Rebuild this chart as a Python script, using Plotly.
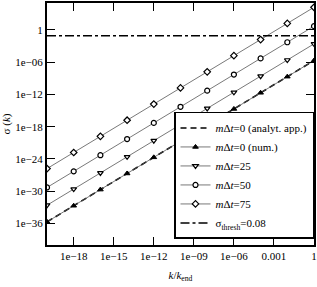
import plotly.graph_objects as go

# Data
k_ratio = [1e-20, 1e-18, 1e-16, 1e-14, 1e-12, 1e-10, 1e-8, 1e-6, 1e-4, 1e-2, 1.0]
sigma_analyt = [2e-36, 2e-33, 2e-30, 2e-27, 2e-24, 2e-21, 2e-18, 2e-15, 2e-12, 2e-9, 2e-6]
sigma_m0 = [2e-36, 2e-33, 2e-30, 2e-27, 2e-24, 2e-21, 2e-18, 2e-15, 2e-12, 2e-9, 2e-6]
sigma_m25 = [2.5e-33, 2.5e-30, 2.5e-27, 2.5e-24, 2.5e-21, 2.5e-18, 2.5e-15, 2.5e-12, 2.5e-9, 2.5e-6, 2.5e-3]
sigma_m50 = [5e-30, 5e-27, 5e-24, 5e-21, 5e-18, 5e-15, 5e-12, 5e-9, 5e-6, 5e-3, 5.0]
sigma_m75 = [1.6e-26, 1.6e-23, 1.6e-20, 1.6e-17, 1.6e-14, 1.6e-11, 1.6e-8, 1.6e-5, 1.6e-2, 1.6e1, 1.6e4]
thresh_x = [1e-20, 1.0]
sigma_thresh = [0.08, 0.08]

x_tickvals = [1e-18, 1e-15, 1e-12, 1e-9, 1e-6, 1e-3, 1]
x_ticktext = ["1e\u221218", "1e\u221215", "1e\u221212", "1e\u221209", "1e\u221206", "0.001", "1"]
y_tickvals = [1, 1e-6, 1e-12, 1e-18, 1e-24, 1e-30, 1e-36]
y_ticktext = ["1", "1e\u221206", "1e\u221212", "1e\u221218", "1e\u221224", "1e\u221230", "1e\u221236"]

FONT = "Liberation Serif, Times New Roman, serif"
line_col = "#555555"
mk = dict(size=5, color="white", line=dict(color="black", width=1.2))

fig = go.Figure()
fig.add_trace(go.Scatter(x=k_ratio, y=sigma_analyt, mode="lines",
                         line=dict(color="black", width=1.6, dash="6px,4px"),
                         name="<i>m</i>\u0394<i>t</i>=0 (analyt. app.)"))
fig.add_trace(go.Scatter(x=k_ratio, y=sigma_m0, mode="lines+markers",
                         line=dict(color=line_col, width=0.8),
                         marker=dict(symbol="triangle-up", size=5, color="black", line=dict(color="black", width=1)),
                         name="<i>m</i>\u0394<i>t</i>=0 (num.)"))
fig.add_trace(go.Scatter(x=k_ratio, y=sigma_m25, mode="lines+markers",
                         line=dict(color=line_col, width=0.8),
                         marker=dict(symbol="triangle-down", **mk),
                         name="<i>m</i>\u0394<i>t</i>=25"))
fig.add_trace(go.Scatter(x=k_ratio, y=sigma_m50, mode="lines+markers",
                         line=dict(color=line_col, width=0.8),
                         marker=dict(symbol="circle", **mk),
                         name="<i>m</i>\u0394<i>t</i>=50"))
fig.add_trace(go.Scatter(x=k_ratio, y=sigma_m75, mode="lines+markers",
                         line=dict(color=line_col, width=0.8),
                         marker=dict(symbol="diamond", **mk),
                         name="<i>m</i>\u0394<i>t</i>=75"))
fig.add_trace(go.Scatter(x=thresh_x, y=sigma_thresh, mode="lines",
                         line=dict(color="black", width=1.5, dash="dashdot"),
                         name="\u03c3<sub>thresh</sub>=0.08"))

axis_common = dict(
    type="log", showgrid=False, zeroline=False,
    showline=True, linecolor="black", linewidth=2, mirror="allticks",
    ticks="inside", ticklen=8, tickwidth=1.3, tickcolor="black",
    tickfont=dict(family=FONT, size=11, color="black"),
)

fig.update_layout(
    width=317, height=287,
    margin=dict(l=47, r=1, t=1, b=42),
    paper_bgcolor="white", plot_bgcolor="white",
    font=dict(family=FONT, size=11, color="black"),
    xaxis=dict(range=[-20, 0], tickvals=x_tickvals, ticktext=x_ticktext,
               title=dict(text="<i>k</i>/<i>k</i><sub>end</sub>", font=dict(family=FONT, size=11), standoff=10),
               **axis_common),
    yaxis=dict(range=[-40, 5], tickvals=y_tickvals, ticktext=y_ticktext,
               title=dict(text="\u03c3 (<i>k</i>)", font=dict(family=FONT, size=11), standoff=4),
               **axis_common),
    legend=dict(x=1, xanchor="right", y=0.025, yanchor="bottom",
                bgcolor="white", bordercolor="black", borderwidth=1.5,
                font=dict(family=FONT, size=11), itemwidth=30,
                tracegroupgap=0),
    showlegend=True,
)

fig.write_html("out.html",
               config={"displayModeBar": False},
               post_script="document.body.style.margin='0';document.body.style.overflow='hidden';")
